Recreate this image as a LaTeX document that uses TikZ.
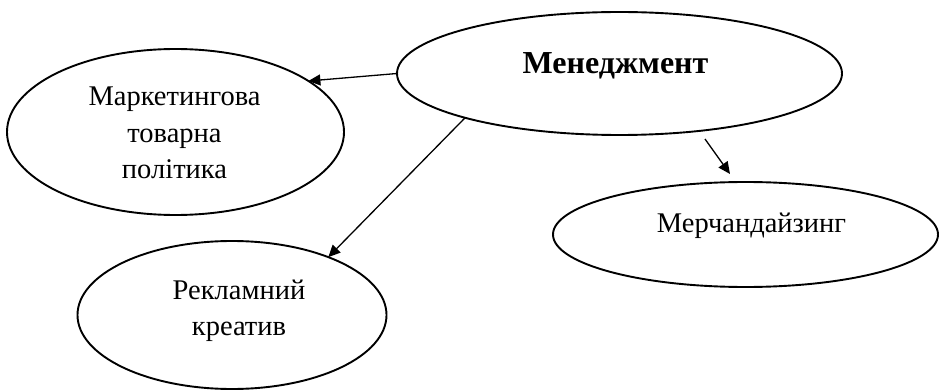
\documentclass[tikz,border=0pt]{standalone}
\usepackage{fontspec}
\setmainfont{Liberation Serif}
\usetikzlibrary{shapes.geometric,arrows.meta}
\tikzset{
  oval/.style={draw=black, ellipse, line width=1.9pt, inner sep=0pt, outer sep=0pt},
  txt/.style={inner sep=0pt, align=center, font=\fontsize{28.5}{36.5}\selectfont},
  boldtxt/.style={inner sep=0pt, font=\fontsize{32}{38}\selectfont\bfseries},
  arr/.style={line width=1.3pt, -{Triangle[length=12pt,width=11pt]}}
}
\begin{document}
\begin{tikzpicture}[x=1pt,y=-1pt]
\useasboundingbox (0,0) rectangle (939,390);
\node[oval, minimum width=337pt, minimum height=166pt] (mkt) at (175.5,132) {};
\node[oval, minimum width=445pt, minimum height=123pt] (men) at (619.5,73.5) {};
\node[oval, minimum width=309pt, minimum height=148pt] (rek) at (232,315) {};
\node[oval, minimum width=385pt, minimum height=105pt] (mer) at (745.5,234.5) {};
\node[boldtxt, anchor=base] (ment) at (615.5,74) {Менеджмент};
\node[txt] (mktt) at (174.5,133) {Маркетингова\\товарна\\політика};
\node[txt] (rekt) at (239,311) {Рекламний\\креатив};
\node[txt, anchor=base] (mert) at (751.5,233) {Мерчандайзинг};
\coordinate (a3s) at (705,139);
\coordinate (a3e) at (730,174);
\draw[arr] (men.west) -- (mkt.21);
\draw[arr] (men.196) -- (rek.31);
\draw[arr] (a3s) -- (a3e);
\end{tikzpicture}
\end{document}
